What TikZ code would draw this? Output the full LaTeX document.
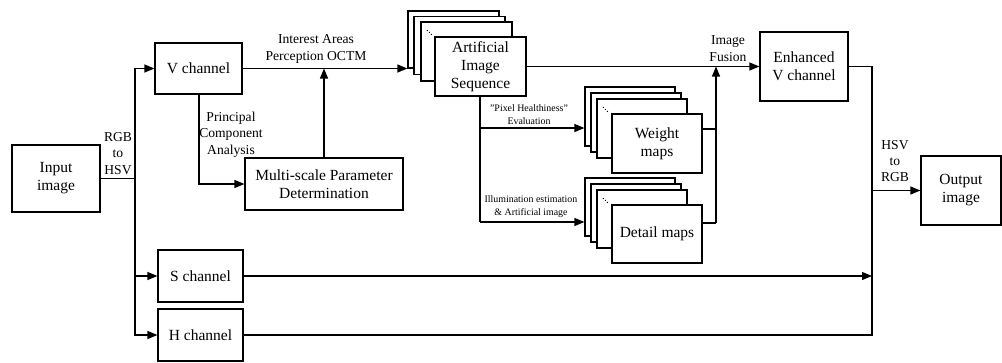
\documentclass[tikz,border=0pt]{standalone}
\usepackage{fontspec}
\setmainfont{Liberation Serif}
\usetikzlibrary{arrows.meta}
\begin{document}
\begin{tikzpicture}[x=1pt,y=-1pt,
  box/.style={draw, line width=1.2pt, fill=white, align=center, inner sep=0pt,
    font=\fontsize{15.5}{18}\selectfont},
  sheet/.style={draw, line width=1.2pt, fill=white, inner sep=0pt},
  lbl/.style={align=center, inner sep=0pt, font=\fontsize{13.6}{16.3}\selectfont},
  small/.style={align=center, inner sep=0pt, font=\fontsize{9.9}{13}\selectfont},
  conn/.style={line width=1.2pt},
  arr/.style={line width=1.2pt, -{Triangle[length=10pt,width=8pt]}}]
\useasboundingbox (0,0) rectangle (1002,362);

% main boxes
\node[box, minimum width=88pt, minimum height=67pt] (inp) at (56,178.5) {Input\\image};
\node[box, minimum width=87pt, minimum height=51pt] (vch) at (198.5,68.5) {V channel};
\node[box, minimum width=85pt, minimum height=52pt] (sch) at (200.5,276) {S channel};
\node[box, minimum width=85pt, minimum height=52pt] (hch) at (200.5,335) {H channel};
\node[box, minimum width=158pt, minimum height=52pt] (msp) at (324,184) {Multi-scale Parameter\\Determination};
\node[box, minimum width=88pt, minimum height=69pt] (env) at (804,66.5) {Enhanced\\V channel};
\node[box, minimum width=80pt, minimum height=69pt] (out) at (961,190.5) {Output\\image};

% artificial image sequence stack
\node[sheet, minimum width=91pt, minimum height=57pt] (aA) at (453.5,39.5) {};
\node[sheet, minimum width=91pt, minimum height=58pt] (aB) at (459.5,45.5) {};
\node[sheet, minimum width=91pt, minimum height=59pt] (aC) at (466.5,51.5) {};
\fill ([shift={(7,9)}]aC.north west) circle (0.7);
\fill ([shift={(9,11)}]aC.north west) circle (0.7);
\fill ([shift={(11,13)}]aC.north west) circle (0.7);
\node[box, minimum width=91pt, minimum height=59pt] (aF) at (480.5,66.5) {Artificial\\Image\\Sequence};

% weight maps stack
\node[sheet, minimum width=90pt, minimum height=59pt] (wA) at (630,116.5) {};
\node[sheet, minimum width=90pt, minimum height=59pt] (wB) at (636,122.5) {};
\node[sheet, minimum width=90pt, minimum height=59pt] (wC) at (642,128.5) {};
\fill ([shift={(7,9)}]wC.north west) circle (0.7);
\fill ([shift={(9,11)}]wC.north west) circle (0.7);
\fill ([shift={(11,13)}]wC.north west) circle (0.7);
\node[box, minimum width=90pt, minimum height=59pt] (wF) at (657,143.5) {Weight\\maps};

% detail maps stack
\node[sheet, minimum width=90pt, minimum height=58pt] (dA) at (630,207) {};
\node[sheet, minimum width=90pt, minimum height=58pt] (dB) at (636,213) {};
\node[sheet, minimum width=90pt, minimum height=58pt] (dC) at (642,219) {};
\fill ([shift={(7,9)}]dC.north west) circle (0.7);
\fill ([shift={(9,11)}]dC.north west) circle (0.7);
\fill ([shift={(11,13)}]dC.north west) circle (0.7);
\node[box, minimum width=90pt, minimum height=58pt] (dF) at (657,234) {Detail maps};

% junction coordinates
\coordinate (bus) at (135,178.5);
\coordinate (pca) at (199,184);
\coordinate (br) at (480,222);
\coordinate (brw) at (480,128);
\coordinate (fus) at (716,223);
\coordinate (fusw) at (716,129);
\coordinate (right) at (872,66.5);
\coordinate (rbot) at (872,335);

% input to channels
\draw[conn] (inp.east) -- (bus);
\draw[arr] (bus) |- (vch.west);
\draw[arr] (bus) |- (sch.west);
\draw[arr] (bus) |- (hch.west);
\node[lbl] (rgb) at (118,153.5) {RGB\\to\\HSV};

% V channel processing
\draw[arr] (vch.east) -- (aA.west |- vch.east);
\node[lbl] (ia) at (316,49) {Interest Areas\\Perception OCTM};
\draw[arr] (vch.south -| pca) -- (pca) -- (msp.west |- pca);
\node[lbl] (pcal) at (231,134.5) {Principal\\Component\\Analysis};
\draw[arr] (msp.north) -- (msp.north |- vch.east);

% artificial sequence branches
\draw[conn] (aF.south -| br) -- (br);
\draw[arr] (brw) -- (wA.west |- brw);
\draw[arr] (br) -- (dA.west |- br);
\node[small] (ph) at (529,115) {"Pixel Healthiness"\\Evaluation};
\node[small] (ill) at (531,206.5) {Illumination estimation\\\& Artificial image};

% fusion
\draw[arr] (aF.east) -- (env.west);
\draw[conn] (wF.east |- fusw) -- (fusw);
\draw[conn] (dF.east |- fus) -- (fus);
\draw[arr] (fus) -- (fus |- env.west);
\node[lbl] (imf) at (728,48.5) {Image\\Fusion};

% recombination
\draw[conn] (env.east) -- (right) -- (rbot) -- (hch.east);
\draw[arr] (sch.east) -- (sch.east -| right);
\draw[arr] (right |- out.west) -- (out.west);
\node[lbl] (hsv) at (895,161) {HSV\\to\\RGB};
\end{tikzpicture}
\end{document}
